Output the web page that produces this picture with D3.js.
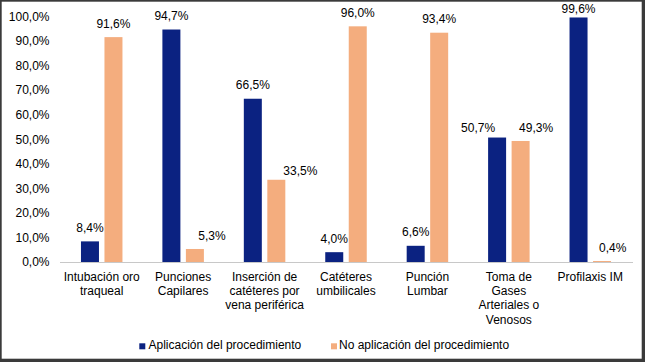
<!DOCTYPE html>
<html><head><meta charset="utf-8">
<script src="https://cdn.jsdelivr.net/npm/d3@7"></script>
<style>body{margin:0;background:#fff}svg{display:block;font-family:"Liberation Sans",Arial,sans-serif}</style>
</head><body><svg id="c" width="645" height="362"></svg>
<script>
const categories = [["Intubación oro","traqueal"],["Punciones","Capilares"],["Inserción de","catéteres por","vena periférica"],["Catéteres","umbilicales"],["Punción","Lumbar"],["Toma de","Gases","Arteriales o","Venosos"],["Profilaxis IM"]];
const aplicacion = [8.4, 94.7, 66.5, 4.0, 6.6, 50.7, 99.6];
const noAplicacion = [91.6, 5.3, 33.5, 96.0, 93.4, 49.3, 0.4];
const seriesNames = ["Aplicación del procedimiento","No aplicación del procedimiento"];
const yTicks = [0,10,20,30,40,50,60,70,80,90,100];
const colors = ["#0b2281","#f4ad7e"];

// label placement nudges (layout only, in px)
const labelNudge = [
  [[0,0],[0,0],[0,0],[0,0],[0,0],[-19,3.7],[0,5]],
  [[0,0],[17,0],[24,4.7],[0,0],[0,0],[15.5,0],[10.7,0]]
];

const svg = d3.select("#c");
svg.append("rect").attr("x",0).attr("y",0).attr("width",645).attr("height",362).attr("fill","#3a3a3a");
svg.append("rect").attr("x",1.7).attr("y",1.7).attr("width",640).attr("height",357).attr("fill","#fff");

const x = d3.scaleBand().domain(d3.range(categories.length)).range([61, 631]).padding(0);
const y = d3.scaleLinear().domain([0,100]).range([262, 16.5]);
const fmt = v => d3.format(".1f")(v).replace(".", ",") + "%";
const FS = 12;

const yAxis = svg.append("g").attr("transform","translate(61,0)")
  .call(d3.axisLeft(y).tickValues(yTicks).tickSize(0).tickPadding(11.5).tickFormat(fmt));
yAxis.select(".domain").remove();
yAxis.selectAll("text").attr("font-size",FS).attr("fill","#000").attr("font-family","Liberation Sans, Arial, sans-serif");

const xAxis = svg.append("g").attr("transform","translate(0,262)")
  .call(d3.axisBottom(x).tickSize(0).tickFormat(""));
xAxis.select(".domain").attr("d","M60,0.5H633").attr("stroke","#c8c8c8").attr("stroke-width",1.2);

const bw = 18;
const series = [aplicacion, noAplicacion];
const offs = [-20.75, 2.75];
series.forEach((vals, si) => {
  const g = svg.append("g");
  g.selectAll("rect").data(vals).join("rect")
    .attr("x",(d,i)=>x(i)+x.bandwidth()/2+offs[si])
    .attr("y",d=>y(d)).attr("width",bw).attr("height",d=>262-y(d))
    .attr("fill",colors[si]);
  g.selectAll("text").data(vals).join("text")
    .attr("x",(d,i)=>x(i)+x.bandwidth()/2+offs[si]+bw/2+labelNudge[si][i][0])
    .attr("y",(d,i)=>y(d)-9.3+labelNudge[si][i][1])
    .attr("text-anchor","middle").attr("font-size",FS).attr("fill","#000")
    .text(fmt);
});

categories.forEach((lines,i)=>{
  const t = svg.append("text").attr("text-anchor","middle").attr("font-size",FS).attr("fill","#000");
  lines.forEach((ln,j)=>{
    t.append("tspan").attr("x",x(i)+x.bandwidth()/2).attr("y",280.8+j*14.3).text(ln);
  });
});

const leg = [{x:139.3, tx:148.5},{x:331, tx:339}];
seriesNames.forEach((n,i)=>{
  svg.append("rect").attr("x",leg[i].x).attr("y",343.3).attr("width",6).attr("height",6).attr("fill",colors[i]);
  svg.append("text").attr("x",leg[i].tx).attr("y",349.3).attr("font-size",FS).attr("fill","#000").text(n);
});
</script></body></html>
